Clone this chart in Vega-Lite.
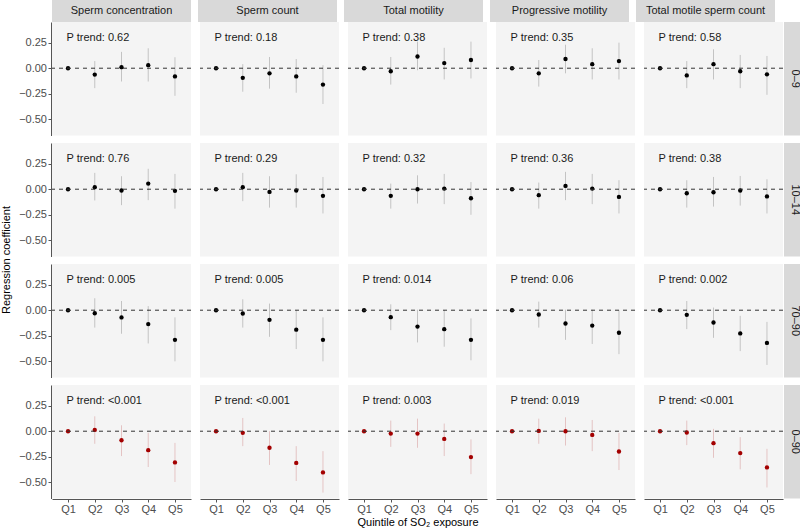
{
  "$schema": "https://vega.github.io/schema/vega-lite/v6.json",
  "background": "white",
  "padding": {"left": 0, "top": 0, "right": 0, "bottom": 0},
  "config": {
    "font": "Liberation Sans",
    "view": {"stroke": null},
    "axis": {
      "labelFont": "Liberation Sans", "labelFontSize": 11, "labelColor": "#4D4D4D",
      "tickColor": "#555555", "domainColor": "#555555", "tickSize": 3,
      "titleFont": "Liberation Sans", "titleFontSize": 11, "titleFontWeight": "normal", "titleColor": "#000000",
      "grid": false, "labelPadding": 2, "labelOverlap": false
    },
    "header": {"titleFont": "Liberation Sans", "titleFontSize": 11, "titleFontWeight": "normal", "titleColor": "#000000", "labelPadding": 0}
  },
  "datasets": {
    "est": [
      {"w": "0–9", "o": "Sperm concentration", "q": "Q1", "est": 0, "pt": "P trend: 0.62"},
      {"w": "0–9", "o": "Sperm concentration", "q": "Q2", "est": -0.062, "lo": -0.195, "hi": 0.07},
      {"w": "0–9", "o": "Sperm concentration", "q": "Q3", "est": 0.01, "lo": -0.13, "hi": 0.16},
      {"w": "0–9", "o": "Sperm concentration", "q": "Q4", "est": 0.03, "lo": -0.13, "hi": 0.195},
      {"w": "0–9", "o": "Sperm concentration", "q": "Q5", "est": -0.08, "lo": -0.27, "hi": 0.107},
      {"w": "0–9", "o": "Sperm count", "q": "Q1", "est": 0, "pt": "P trend: 0.18"},
      {"w": "0–9", "o": "Sperm count", "q": "Q2", "est": -0.094, "lo": -0.23, "hi": 0.04},
      {"w": "0–9", "o": "Sperm count", "q": "Q3", "est": -0.05, "lo": -0.2, "hi": 0.11},
      {"w": "0–9", "o": "Sperm count", "q": "Q4", "est": -0.08, "lo": -0.24, "hi": 0.09},
      {"w": "0–9", "o": "Sperm count", "q": "Q5", "est": -0.16, "lo": -0.35, "hi": 0.03},
      {"w": "0–9", "o": "Total motility", "q": "Q1", "est": 0, "pt": "P trend: 0.38"},
      {"w": "0–9", "o": "Total motility", "q": "Q2", "est": -0.03, "lo": -0.16, "hi": 0.11},
      {"w": "0–9", "o": "Total motility", "q": "Q3", "est": 0.115, "lo": -0.02, "hi": 0.26},
      {"w": "0–9", "o": "Total motility", "q": "Q4", "est": 0.05, "lo": -0.11, "hi": 0.2},
      {"w": "0–9", "o": "Total motility", "q": "Q5", "est": 0.08, "lo": -0.1, "hi": 0.26},
      {"w": "0–9", "o": "Progressive motility", "q": "Q1", "est": 0, "pt": "P trend: 0.35"},
      {"w": "0–9", "o": "Progressive motility", "q": "Q2", "est": -0.05, "lo": -0.18, "hi": 0.08},
      {"w": "0–9", "o": "Progressive motility", "q": "Q3", "est": 0.09, "lo": -0.05, "hi": 0.23},
      {"w": "0–9", "o": "Progressive motility", "q": "Q4", "est": 0.04, "lo": -0.11, "hi": 0.195},
      {"w": "0–9", "o": "Progressive motility", "q": "Q5", "est": 0.07, "lo": -0.11, "hi": 0.25},
      {"w": "0–9", "o": "Total motile sperm count", "q": "Q1", "est": 0, "pt": "P trend: 0.58"},
      {"w": "0–9", "o": "Total motile sperm count", "q": "Q2", "est": -0.07, "lo": -0.195, "hi": 0.07},
      {"w": "0–9", "o": "Total motile sperm count", "q": "Q3", "est": 0.04, "lo": -0.11, "hi": 0.185},
      {"w": "0–9", "o": "Total motile sperm count", "q": "Q4", "est": -0.03, "lo": -0.195, "hi": 0.13},
      {"w": "0–9", "o": "Total motile sperm count", "q": "Q5", "est": -0.06, "lo": -0.26, "hi": 0.12},

      {"w": "10–14", "o": "Sperm concentration", "q": "Q1", "est": 0, "pt": "P trend: 0.76"},
      {"w": "10–14", "o": "Sperm concentration", "q": "Q2", "est": 0.02, "lo": -0.11, "hi": 0.16},
      {"w": "10–14", "o": "Sperm concentration", "q": "Q3", "est": -0.013, "lo": -0.156, "hi": 0.127},
      {"w": "10–14", "o": "Sperm concentration", "q": "Q4", "est": 0.055, "lo": -0.107, "hi": 0.2},
      {"w": "10–14", "o": "Sperm concentration", "q": "Q5", "est": -0.016, "lo": -0.19, "hi": 0.15},
      {"w": "10–14", "o": "Sperm count", "q": "Q1", "est": 0, "pt": "P trend: 0.29"},
      {"w": "10–14", "o": "Sperm count", "q": "Q2", "est": 0.02, "lo": -0.117, "hi": 0.16},
      {"w": "10–14", "o": "Sperm count", "q": "Q3", "est": -0.026, "lo": -0.18, "hi": 0.127},
      {"w": "10–14", "o": "Sperm count", "q": "Q4", "est": -0.013, "lo": -0.18, "hi": 0.146},
      {"w": "10–14", "o": "Sperm count", "q": "Q5", "est": -0.065, "lo": -0.237, "hi": 0.12},
      {"w": "10–14", "o": "Total motility", "q": "Q1", "est": 0, "pt": "P trend: 0.32"},
      {"w": "10–14", "o": "Total motility", "q": "Q2", "est": -0.065, "lo": -0.19, "hi": 0.055},
      {"w": "10–14", "o": "Total motility", "q": "Q3", "est": 0.0, "lo": -0.14, "hi": 0.136},
      {"w": "10–14", "o": "Total motility", "q": "Q4", "est": 0.006, "lo": -0.146, "hi": 0.15},
      {"w": "10–14", "o": "Total motility", "q": "Q5", "est": -0.088, "lo": -0.25, "hi": 0.07},
      {"w": "10–14", "o": "Progressive motility", "q": "Q1", "est": 0, "pt": "P trend: 0.36"},
      {"w": "10–14", "o": "Progressive motility", "q": "Q2", "est": -0.058, "lo": -0.19, "hi": 0.065},
      {"w": "10–14", "o": "Progressive motility", "q": "Q3", "est": 0.032, "lo": -0.107, "hi": 0.17},
      {"w": "10–14", "o": "Progressive motility", "q": "Q4", "est": 0.006, "lo": -0.146, "hi": 0.15},
      {"w": "10–14", "o": "Progressive motility", "q": "Q5", "est": -0.075, "lo": -0.237, "hi": 0.088},
      {"w": "10–14", "o": "Total motile sperm count", "q": "Q1", "est": 0, "pt": "P trend: 0.38"},
      {"w": "10–14", "o": "Total motile sperm count", "q": "Q2", "est": -0.039, "lo": -0.18, "hi": 0.088},
      {"w": "10–14", "o": "Total motile sperm count", "q": "Q3", "est": -0.03, "lo": -0.17, "hi": 0.12},
      {"w": "10–14", "o": "Total motile sperm count", "q": "Q4", "est": -0.013, "lo": -0.16, "hi": 0.13},
      {"w": "10–14", "o": "Total motile sperm count", "q": "Q5", "est": -0.07, "lo": -0.237, "hi": 0.097},

      {"w": "70–90", "o": "Sperm concentration", "q": "Q1", "est": 0, "pt": "P trend: 0.005"},
      {"w": "70–90", "o": "Sperm concentration", "q": "Q2", "est": -0.03, "lo": -0.17, "hi": 0.117},
      {"w": "70–90", "o": "Sperm concentration", "q": "Q3", "est": -0.07, "lo": -0.23, "hi": 0.09},
      {"w": "70–90", "o": "Sperm concentration", "q": "Q4", "est": -0.136, "lo": -0.325, "hi": 0.04},
      {"w": "70–90", "o": "Sperm concentration", "q": "Q5", "est": -0.29, "lo": -0.5, "hi": -0.07},
      {"w": "70–90", "o": "Sperm count", "q": "Q1", "est": 0, "pt": "P trend: 0.005"},
      {"w": "70–90", "o": "Sperm count", "q": "Q2", "est": -0.032, "lo": -0.17, "hi": 0.107},
      {"w": "70–90", "o": "Sperm count", "q": "Q3", "est": -0.094, "lo": -0.26, "hi": 0.065},
      {"w": "70–90", "o": "Sperm count", "q": "Q4", "est": -0.19, "lo": -0.38, "hi": 0.0},
      {"w": "70–90", "o": "Sperm count", "q": "Q5", "est": -0.29, "lo": -0.5, "hi": -0.07},
      {"w": "70–90", "o": "Total motility", "q": "Q1", "est": 0, "pt": "P trend: 0.014"},
      {"w": "70–90", "o": "Total motility", "q": "Q2", "est": -0.068, "lo": -0.195, "hi": 0.058},
      {"w": "70–90", "o": "Total motility", "q": "Q3", "est": -0.16, "lo": -0.315, "hi": 0.005},
      {"w": "70–90", "o": "Total motility", "q": "Q4", "est": -0.185, "lo": -0.357, "hi": 0.0},
      {"w": "70–90", "o": "Total motility", "q": "Q5", "est": -0.29, "lo": -0.49, "hi": -0.08},
      {"w": "70–90", "o": "Progressive motility", "q": "Q1", "est": 0, "pt": "P trend: 0.06"},
      {"w": "70–90", "o": "Progressive motility", "q": "Q2", "est": -0.042, "lo": -0.17, "hi": 0.084},
      {"w": "70–90", "o": "Progressive motility", "q": "Q3", "est": -0.13, "lo": -0.29, "hi": 0.005},
      {"w": "70–90", "o": "Progressive motility", "q": "Q4", "est": -0.15, "lo": -0.33, "hi": 0.005},
      {"w": "70–90", "o": "Progressive motility", "q": "Q5", "est": -0.22, "lo": -0.43, "hi": 0.0},
      {"w": "70–90", "o": "Total motile sperm count", "q": "Q1", "est": 0, "pt": "P trend: 0.002"},
      {"w": "70–90", "o": "Total motile sperm count", "q": "Q2", "est": -0.045, "lo": -0.185, "hi": 0.09},
      {"w": "70–90", "o": "Total motile sperm count", "q": "Q3", "est": -0.12, "lo": -0.27, "hi": 0.026},
      {"w": "70–90", "o": "Total motile sperm count", "q": "Q4", "est": -0.227, "lo": -0.4, "hi": -0.055},
      {"w": "70–90", "o": "Total motile sperm count", "q": "Q5", "est": -0.32, "lo": -0.535, "hi": -0.114},

      {"w": "0–90", "o": "Sperm concentration", "q": "Q1", "est": 0, "pt": "P trend: <0.001"},
      {"w": "0–90", "o": "Sperm concentration", "q": "Q2", "est": 0.013, "lo": -0.123, "hi": 0.146},
      {"w": "0–90", "o": "Sperm concentration", "q": "Q3", "est": -0.088, "lo": -0.243, "hi": 0.058},
      {"w": "0–90", "o": "Sperm concentration", "q": "Q4", "est": -0.185, "lo": -0.35, "hi": -0.016},
      {"w": "0–90", "o": "Sperm concentration", "q": "Q5", "est": -0.305, "lo": -0.497, "hi": -0.114},
      {"w": "0–90", "o": "Sperm count", "q": "Q1", "est": 0, "pt": "P trend: <0.001"},
      {"w": "0–90", "o": "Sperm count", "q": "Q2", "est": -0.016, "lo": -0.146, "hi": 0.13},
      {"w": "0–90", "o": "Sperm count", "q": "Q3", "est": -0.162, "lo": -0.33, "hi": 0.0},
      {"w": "0–90", "o": "Sperm count", "q": "Q4", "est": -0.31, "lo": -0.487, "hi": -0.146},
      {"w": "0–90", "o": "Sperm count", "q": "Q5", "est": -0.403, "lo": -0.6, "hi": -0.195},
      {"w": "0–90", "o": "Total motility", "q": "Q1", "est": 0, "pt": "P trend: 0.003"},
      {"w": "0–90", "o": "Total motility", "q": "Q2", "est": -0.023, "lo": -0.153, "hi": 0.104},
      {"w": "0–90", "o": "Total motility", "q": "Q3", "est": -0.023, "lo": -0.162, "hi": 0.123},
      {"w": "0–90", "o": "Total motility", "q": "Q4", "est": -0.075, "lo": -0.243, "hi": 0.075},
      {"w": "0–90", "o": "Total motility", "q": "Q5", "est": -0.253, "lo": -0.42, "hi": -0.08},
      {"w": "0–90", "o": "Progressive motility", "q": "Q1", "est": 0, "pt": "P trend: 0.019"},
      {"w": "0–90", "o": "Progressive motility", "q": "Q2", "est": 0.003, "lo": -0.123, "hi": 0.123},
      {"w": "0–90", "o": "Progressive motility", "q": "Q3", "est": 0.0, "lo": -0.14, "hi": 0.136},
      {"w": "0–90", "o": "Progressive motility", "q": "Q4", "est": -0.036, "lo": -0.195, "hi": 0.11},
      {"w": "0–90", "o": "Progressive motility", "q": "Q5", "est": -0.198, "lo": -0.38, "hi": -0.016},
      {"w": "0–90", "o": "Total motile sperm count", "q": "Q1", "est": 0, "pt": "P trend: <0.001"},
      {"w": "0–90", "o": "Total motile sperm count", "q": "Q2", "est": -0.013, "lo": -0.136, "hi": 0.104},
      {"w": "0–90", "o": "Total motile sperm count", "q": "Q3", "est": -0.117, "lo": -0.26, "hi": 0.023},
      {"w": "0–90", "o": "Total motile sperm count", "q": "Q4", "est": -0.214, "lo": -0.373, "hi": -0.058},
      {"w": "0–90", "o": "Total motile sperm count", "q": "Q5", "est": -0.354, "lo": -0.55, "hi": -0.172}
    ],
    "outcomes": [
      {"o": "Sperm concentration"}, {"o": "Sperm count"}, {"o": "Total motility"},
      {"o": "Progressive motility"}, {"o": "Total motile sperm count"}
    ],
    "windows": [{"w": "0–9"}, {"w": "10–14"}, {"w": "70–90"}, {"w": "0–90"}]
  },
  "spacing": 0,
  "hconcat": [
    {
      "spacing": 0,
      "vconcat": [
        {
          "data": {"name": "outcomes"},
          "facet": {"column": {"field": "o", "header": null, "sort": ["Sperm concentration", "Sperm count", "Total motility", "Progressive motility", "Total motile sperm count"]}},
          "spacing": 7,
          "spec": {
            "width": 139, "height": 22,
            "view": {"fill": "#D9D9D9", "stroke": null},
            "mark": {"type": "text", "fontSize": 11, "color": "#1A1A1A", "font": "Liberation Sans"},
            "encoding": {"text": {"field": "o"}}
          }
        },
        {
          "data": {"name": "est"},
          "facet": {
            "row": {"field": "w", "title": "Regression coefficient", "sort": ["0–9", "10–14", "70–90", "0–90"],
                    "header": {"labels": false, "titleOrient": "left", "titlePadding": -4, "labelPadding": 0, "titleFontSize": 11}},
            "column": {"field": "o", "title": "Quintile of SO₂ exposure", "sort": ["Sperm concentration", "Sperm count", "Total motility", "Progressive motility", "Total motile sperm count"],
                    "header": {"labels": false, "titleOrient": "bottom", "titlePadding": -8, "labelPadding": 0, "titleFontSize": 11}}
          },
          "spacing": 7,
          "spec": {
            "width": 139, "height": 113.5,
            "view": {"fill": "#F4F4F4", "stroke": null},
            "layer": [
              {
                "mark": {"type": "point", "filled": true, "opacity": 1, "size": 19},
                "encoding": {
                  "x": {"field": "q", "type": "ordinal", "scale": {"type": "point", "padding": 0.6},
                        "axis": {"title": null, "labelAngle": 0, "labelAlign": "center", "labelBaseline": "top", "labelPadding": 1.5}},
                  "y": {"field": "est", "type": "quantitative", "scale": {"domain": [-0.658, 0.452], "nice": false, "zero": false},
                        "axis": {"title": null, "values": [0.25, 0, -0.25, -0.5], "tickCount": 10, "format": ".2f", "labelAlign": "right", "labelBaseline": "middle", "labelOverlap": false, "labelPadding": 1.5}},
                  "color": {"field": "w", "type": "nominal", "scale": {"domain": ["0–9", "10–14", "70–90", "0–90"], "range": ["#000000", "#000000", "#000000", "#A30000"]}, "legend": null}
                }
              },
              {
                "transform": [{"filter": "datum.q === 'Q1'"}],
                "mark": {"type": "rule", "strokeDash": [4, 4], "color": "#333333", "strokeWidth": 1},
                "encoding": {"y": {"field": "est", "type": "quantitative"}}
              },
              {
                "transform": [{"filter": "isValid(datum.lo)"}],
                "mark": {"type": "rule", "strokeWidth": 1, "opacity": 0.2},
                "encoding": {
                  "x": {"field": "q", "type": "ordinal"},
                  "y": {"field": "lo", "type": "quantitative"},
                  "y2": {"field": "hi"},
                  "color": {"field": "w", "type": "nominal", "legend": null}
                }
              },
              {
                "transform": [{"filter": "isValid(datum.pt)"}],
                "mark": {"type": "text", "align": "left", "baseline": "middle", "fontSize": 11, "color": "#1A1A1A", "dx": -1.5},
                "encoding": {
                  "x": {"datum": "Q1", "type": "ordinal"},
                  "y": {"datum": 0.30, "type": "quantitative"},
                  "text": {"field": "pt"}
                }
              }
            ]
          }
        }
      ]
    },
    {
      "spacing": 0,
      "vconcat": [
        {
          "width": 21.5, "height": 22,
          "data": {"values": [{}]},
          "mark": {"type": "point", "opacity": 0}
        },
        {
          "data": {"name": "windows"},
          "facet": {"row": {"field": "w", "header": null, "sort": ["0–9", "10–14", "70–90", "0–90"]}},
          "spacing": 7,
          "spec": {
            "width": 21.5, "height": 113.5,
            "view": {"fill": "#D9D9D9", "stroke": null},
            "mark": {"type": "text", "angle": 90, "fontSize": 11, "color": "#1A1A1A", "font": "Liberation Sans"},
            "encoding": {"text": {"field": "w"}}
          }
        }
      ]
    }
  ]
}
